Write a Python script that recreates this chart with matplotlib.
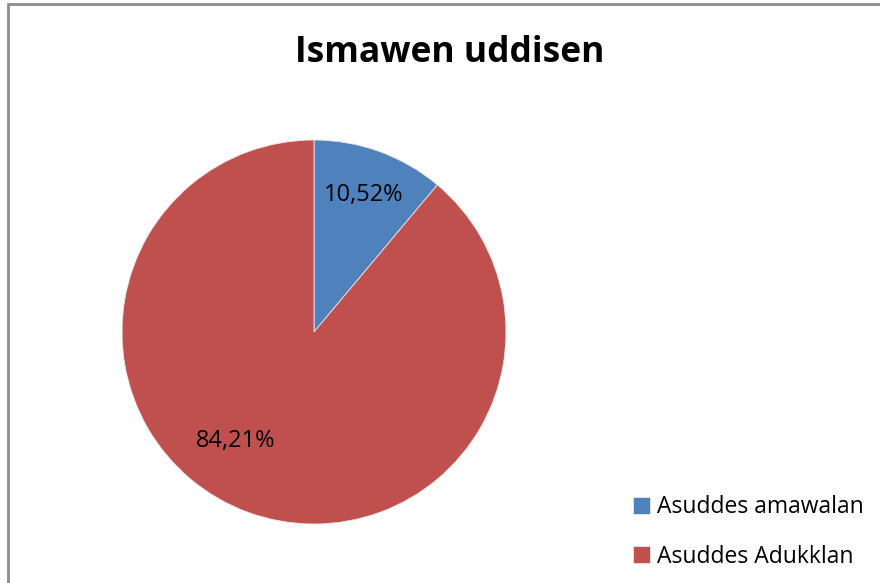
import matplotlib
matplotlib.use("Agg")
import matplotlib.pyplot as plt
from matplotlib.patches import Rectangle

plt.rcParams['font.family'] = ['Open Sans', 'DejaVu Sans']

labels = ["Asuddes amawalan", "Asuddes Adukklan"]
values = [10.52, 84.21]
colors = ["#4F81BD", "#C0504D"]

fig = plt.figure(figsize=(8.8, 5.83), dpi=100)

# grey frame of the chart area (right/bottom edges cut off in the original)
fig.patches.append(Rectangle((7.5 / 880, -0.05), 1.2, (583 - 3.5) / 583 + 0.05,
                             transform=fig.transFigure, fill=False,
                             edgecolor="#8c8c8c", linewidth=2))

ax = fig.add_axes([122 / 880, 59 / 583, 384 / 880, 384 / 583])
wedges, texts, pcts = ax.pie(values, colors=colors, startangle=90, counterclock=False,
                             autopct=lambda p: "", pctdistance=0.76,
                             wedgeprops=dict(edgecolor="#e8e8e8", linewidth=0.6))
# value labels show the raw numbers
for t, v in zip(pcts, values):
    t.set_text(f"{v:.2f}%".replace(".", ","))
    t.set_fontsize(17)
pcts[1].set_position((-0.41, -0.57))
ax.set_xlim(-1, 1)
ax.set_ylim(-1, 1)
ax.set_aspect("equal")

fig.text(450 / 880, 1 - 53 / 583, "Ismawen uddisen", ha="center", va="center",
         fontsize=25.5, fontweight="bold")

fig.legend(wedges, labels, loc="center left", bbox_to_anchor=(612 / 880, 1 - 532 / 583),
           frameon=False, fontsize=16.5, handlelength=0.75, handleheight=0.75,
           handletextpad=0.3, labelspacing=1.1)

fig.savefig("out.png", dpi=100)
